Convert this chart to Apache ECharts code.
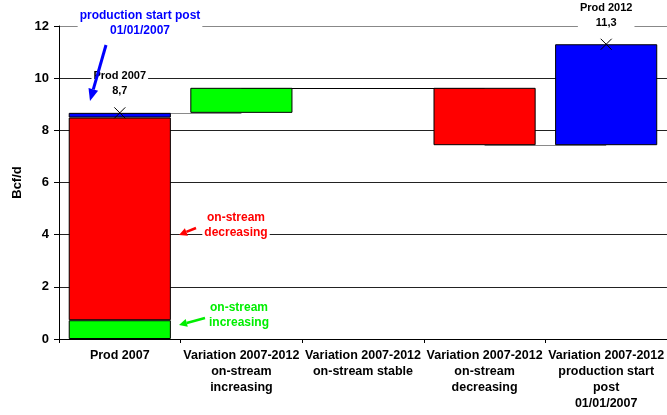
<!DOCTYPE html>
<html>
<head>
<meta charset="utf-8">
<script src="https://cdn.jsdelivr.net/npm/echarts@6/dist/echarts.min.js"></script>
<style>html,body{margin:0;padding:0;background:#fff}#c{width:667px;height:415px}</style>
</head>
<body>
<div id="c"></div>
<script>
const categories = [
  'Prod 2007',
  'Variation 2007-2012\non-stream\nincreasing',
  'Variation 2007-2012\non-stream stable',
  'Variation 2007-2012\non-stream\ndecreasing',
  'Variation 2007-2012\nproduction start\npost\n01/01/2007'
];
// Prod 2007 split: on-stream increasing, on-stream decreasing, production start post 01/01/2007
const prod2007Parts = [0.72, 7.77, 0.18];
// Variations 2007-2012 (increasing, stable, decreasing, new production)
const variations = [0.96, 0.00, -2.20, 3.87];
const yTicks = [0, 2, 4, 6, 8, 10, 12];

const FONT = '"Liberation Sans", Arial, sans-serif';
const start = prod2007Parts.reduce((a, b) => a + b, 0);
const levels = [start];
variations.forEach(v => levels.push(levels[levels.length - 1] + v));

const baseData = ['-'], greenData = [prod2007Parts[0]], redData = [prod2007Parts[1]], blueData = [prod2007Parts[2]];
variations.forEach((v, i) => {
  const prev = levels[i], next = levels[i + 1];
  const size = Math.abs(v);
  if (size === 0) { baseData.push('-'); greenData.push('-'); redData.push('-'); blueData.push('-'); return; }
  baseData.push(+Math.min(prev, next).toFixed(2));
  greenData.push(i === 0 ? size : '-');
  redData.push(i === 2 ? size : '-');
  blueData.push(i === 3 ? size : '-');
});
const endVal = levels[levels.length - 1];
const fmt = v => v.toFixed(1).replace('.', ',');

const connectors = [];
for (let i = 0; i < levels.length - 1; i++) {
  connectors.push({
    coords: [[i + 0.5, levels[i]], [i + 1.5, levels[i]]],
    lineStyle: { color: (i === 0 || i === 3) ? '#8a8a8a' : '#000', width: 1, opacity: 1 }
  });
}

const barCommon = {
  type: 'bar', stack: 'w', barWidth: '84%', xAxisIndex: 0, yAxisIndex: 0, z: 3,
  emphasis: { disabled: true }
};
const border = { borderColor: '#000', borderWidth: 1 };

function arrow(x1, y1, x2, y2, color, w, hl, hw) {
  const dx = x2 - x1, dy = y2 - y1, L = Math.sqrt(dx * dx + dy * dy);
  const ux = dx / L, uy = dy / L, px = -uy, py = ux;
  const bx = x2 - ux * hl, by = y2 - uy * hl;
  return [
    { type: 'line', shape: { x1, y1, x2: bx, y2: by }, style: { stroke: color, lineWidth: w }, z: 20 },
    { type: 'polygon', shape: { points: [[x2, y2], [bx + px * hw, by + py * hw], [bx - px * hw, by - py * hw]] }, style: { fill: color }, z: 20 }
  ];
}
function note(x, y, text, color) {
  return { type: 'text', x, y, z: 21, style: { text, fill: color, font: 'bold 12px ' + FONT, align: 'center', verticalAlign: 'top', lineHeight: 15, backgroundColor: '#fff', padding: [0, 2] } };
}

const chart = echarts.init(document.getElementById('c'), null, { renderer: 'canvas' });
chart.setOption({
  animation: false,
  backgroundColor: '#fff',
  textStyle: { fontFamily: FONT },
  grid: { left: 59, top: 26, right: -2, bottom: 76 },
  xAxis: [
    {
      type: 'category', data: categories, boundaryGap: true,
      axisLine: { lineStyle: { color: '#000', width: 1 } },
      axisTick: { show: true, length: 4, lineStyle: { color: '#000' } },
      axisLabel: { interval: 0, color: '#000', fontWeight: 'bold', fontSize: 12.5, lineHeight: 16, margin: 9, fontFamily: FONT }
    },
    { type: 'value', min: 0, max: 5, show: false }
  ],
  yAxis: {
    type: 'value', min: yTicks[0], max: yTicks[yTicks.length - 1], interval: 2,
    name: 'Bcf/d', nameLocation: 'middle', nameGap: 35, nameRotate: 90,
    nameTextStyle: { fontWeight: 'bold', fontSize: 13, color: '#000', fontFamily: FONT },
    axisLine: { show: true, lineStyle: { color: '#000' } },
    axisTick: { show: true, length: 5, inside: false, lineStyle: { color: '#000' } },
    axisLabel: { color: '#000', fontWeight: 'bold', fontSize: 13, margin: 10, fontFamily: FONT },
    splitLine: { show: true, lineStyle: { color: ['#222', '#222', '#222', '#222', '#222', '#222', '#888'], width: 1 } }
  },
  series: [
    Object.assign({}, barCommon, { name: 'base', data: baseData, itemStyle: { color: 'transparent', borderWidth: 0 } }),
    Object.assign({}, barCommon, { name: 'increasing', data: greenData, itemStyle: Object.assign({ color: '#00ff00' }, border) }),
    Object.assign({}, barCommon, { name: 'decreasing', data: redData, itemStyle: Object.assign({ color: '#ff0000' }, border) }),
    Object.assign({}, barCommon, { name: 'new', data: blueData, itemStyle: Object.assign({ color: '#0000ff' }, border) }),
    {
      type: 'lines', coordinateSystem: 'cartesian2d', xAxisIndex: 1, yAxisIndex: 0, z: 1,
      data: connectors, silent: true, lineStyle: { opacity: 1 }
    },
    {
      type: 'scatter', xAxisIndex: 1, yAxisIndex: 0, z: 10, silent: true,
      symbol: 'path://M0,0L10,10M10,0L0,10', symbolSize: 11,
      itemStyle: { color: 'none', borderColor: '#000', borderWidth: 1, opacity: 1 },
      data: [
        { value: [0.5, start], name: 'Prod 2007' },
        { value: [4.5, endVal], name: 'Prod 2012' }
      ],
      label: {
        show: true, position: 'top', distance: 6, color: '#000', fontWeight: 'bold', fontSize: 11,
        lineHeight: 15, backgroundColor: '#fff', padding: [0, 2], fontFamily: FONT,
        formatter: p => p.name + '\n' + fmt(p.value[1])
      }
    }
  ],
  graphic: [
    note(140, 8, 'production start post\n01/01/2007', '#0000ff'),
    ...arrow(106, 45, 90, 101, '#0000ff', 3, 12, 5),
    note(236, 210, 'on-stream\ndecreasing', '#ff0000'),
    ...arrow(196, 228, 179, 235, '#ff0000', 2.5, 8, 4),
    note(239, 300, 'on-stream\nincreasing', '#00ee00'),
    ...arrow(205, 318, 179, 325, '#00ee00', 2.5, 8, 4)
  ]
});
</script>
</body>
</html>
